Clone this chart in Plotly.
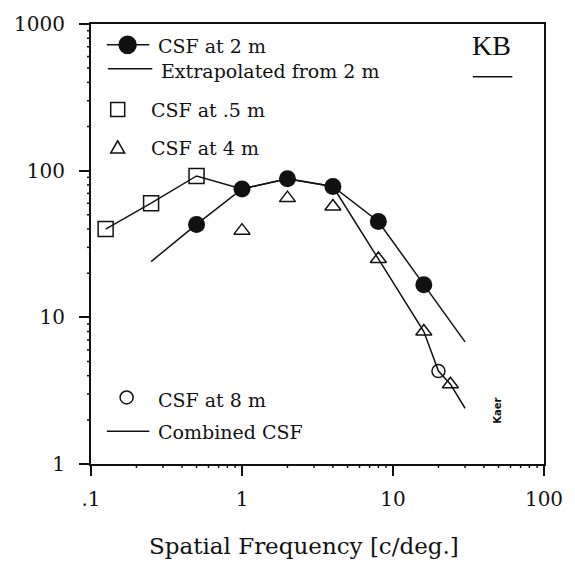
import math
import plotly.graph_objects as go

# ---- data (spatial frequency in c/deg, contrast sensitivity) ----
freq_2m = [0.5, 1, 2, 4, 8, 16]
csf_2m = [43, 75, 88, 78, 45, 16.7]

freq_extrap = [0.25, 0.5, None, 16, 30]
csf_extrap = [24, 43, None, 16.7, 6.8]

freq_half = [0.125, 0.25, 0.5]
csf_half = [40, 60, 92]

freq_4m = [1, 2, 4, 8, 16, 24]
csf_4m = [39, 65, 57, 25, 8, 3.5]

freq_8m = [20]
csf_8m = [4.3]

freq_comb = [0.125, 0.25, 0.5, 1, 2, 4, 8, 16, 20, 24, 30]
csf_comb = [40, 60, 92, 75, 88, 78, 25, 8, 4.3, 3.5, 2.4]

x_tickvals = [0.1, 1, 10, 100]
x_ticktext = [".1", "1", "10", "100"]
y_tickvals = [1, 10, 100, 1000]
y_ticktext = ["1", "10", "100", "1000"]

X_RANGE = [-1, 2]   # log10 of 0.1 .. 100
Y_RANGE = [0, 3]    # log10 of 1 .. 1000

FONT = "DejaVu Serif"
INK = "#111111"
W, H = 575, 562
L, R, T, B = 91, 549, 21, 464


def px(x):
    return (x - L) / (R - L)


def py(y):
    return (B - y) / (B - T)


fig = go.Figure()

line_style = dict(color=INK, width=1.5)

fig.add_trace(go.Scatter(x=freq_comb, y=csf_comb, mode="lines", line=line_style))
fig.add_trace(go.Scatter(x=freq_extrap, y=csf_extrap, mode="lines", line=line_style,
                         connectgaps=False))
fig.add_trace(go.Scatter(x=freq_2m, y=csf_2m, mode="lines+markers", line=line_style,
                         marker=dict(symbol="circle", size=17, color=INK)))
fig.add_trace(go.Scatter(x=freq_half, y=csf_half, mode="markers",
                         marker=dict(symbol="square-open", size=15, color=INK,
                                     line=dict(width=1.5, color=INK))))
fig.add_trace(go.Scatter(x=freq_4m, y=csf_4m, mode="markers",
                         marker=dict(symbol="triangle-up-open", size=14, color=INK,
                                     line=dict(width=1.5, color=INK))))
fig.add_trace(go.Scatter(x=freq_8m, y=csf_8m, mode="markers",
                         marker=dict(symbol="circle-open", size=13, color=INK,
                                     line=dict(width=1.5, color=INK))))

major = dict(
    type="log", showgrid=False, zeroline=False,
    showline=True, linecolor=INK, linewidth=2, mirror=True,
    ticks="outside", ticklen=10, tickwidth=1.5, tickcolor=INK,
    tickfont=dict(family=FONT, size=20, color=INK),
    tickmode="array",
)

fig.update_xaxes(range=X_RANGE, tickvals=x_tickvals, ticktext=x_ticktext,
                 ticklabelstandoff=6, **major)
fig.update_yaxes(range=Y_RANGE, tickvals=y_tickvals, ticktext=y_ticktext,
                 ticklabelstandoff=10, **major)

shapes = []
annotations = []

# short minor ticks at 2..9 within each decade, placed on the log scale
MINOR_LEN = 4
for d in (0.1, 1, 10):
    for m in range(2, 10):
        f = (math.log10(m * d) - X_RANGE[0]) / (X_RANGE[1] - X_RANGE[0])
        shapes.append(dict(type="line", xref="paper", yref="paper",
                           ysizemode="pixel", yanchor=0,
                           x0=f, x1=f, y0=0, y1=-MINOR_LEN,
                           line=dict(color=INK, width=1.5)))
for d in (1, 10, 100):
    for m in range(2, 10):
        f = (math.log10(m * d) - Y_RANGE[0]) / (Y_RANGE[1] - Y_RANGE[0])
        shapes.append(dict(type="line", xref="paper", yref="paper",
                           xsizemode="pixel", xanchor=0,
                           x0=0, x1=-MINOR_LEN, y0=f, y1=f,
                           line=dict(color=INK, width=1.5)))


def key_line(x0, x1, y):
    shapes.append(dict(type="line", xref="paper", yref="paper",
                       x0=px(x0), x1=px(x1), y0=py(y), y1=py(y),
                       line=dict(color=INK, width=1.5)))


def key_marker(kind, x, y, r, filled=False):
    base = dict(xref="paper", yref="paper", xsizemode="pixel", ysizemode="pixel",
                xanchor=px(x), yanchor=py(y),
                line=dict(color=INK, width=1.5),
                fillcolor=INK if filled else "rgba(0,0,0,0)")
    if kind == "circle":
        shapes.append(dict(type="circle", x0=-r, x1=r, y0=-r, y1=r, **base))
    elif kind == "square":
        shapes.append(dict(type="rect", x0=-r, x1=r, y0=-r, y1=r, **base))
    elif kind == "triangle":
        shapes.append(dict(type="path",
                           path=f"M{-r},{-r*0.85} L{r},{-r*0.85} L0,{r*0.9} Z",
                           **base))


def key_text(text, x, y, size=19):
    annotations.append(dict(text=text, xref="paper", yref="paper",
                            x=px(x), y=py(y), xanchor="left", yanchor="middle",
                            showarrow=False,
                            font=dict(family=FONT, size=size, color=INK)))


# upper key
key_line(107, 150, 42)
key_marker("circle", 128, 42, 8.5, filled=True)
key_text("CSF at 2 m", 157, 43)
key_line(108, 153, 66)
key_text("Extrapolated from 2 m", 160, 68)
key_marker("square", 118, 107, 7)
key_text("CSF at .5 m", 150, 108)
key_marker("triangle", 118, 145, 7)
key_text("CSF at 4 m", 150, 146)

# lower key
key_marker("circle", 127, 397, 6.5)
key_text("CSF at 8 m", 157, 400)
key_line(107, 150, 431)
key_text("Combined CSF", 157, 432)

# subject tag
annotations.append(dict(text="KB", xref="paper", yref="paper", x=px(496), y=py(43),
                        xanchor="center", yanchor="middle", showarrow=False,
                        font=dict(family="Liberation Serif", size=28, color=INK)))
shapes.append(dict(type="line", xref="paper", yref="paper",
                   x0=px(477), x1=px(517), y0=py(74), y1=py(74),
                   line=dict(color=INK, width=1.5)))

annotations.append(dict(text="<b>Kaer</b>", xref="paper", yref="paper",
                        x=px(502), y=py(411),
                        xanchor="center", yanchor="middle", textangle=-90,
                        showarrow=False,
                        font=dict(family="DejaVu Sans", size=10, color=INK)))

# axis title
annotations.append(dict(text="Spatial Frequency [c/deg.]", xref="paper", yref="paper",
                        x=px(306), y=py(547), xanchor="center", yanchor="middle",
                        showarrow=False,
                        font=dict(family=FONT, size=23, color=INK)))

fig.update_layout(
    width=W, height=H,
    margin=dict(l=L, r=W - R, t=T, b=H - B),
    paper_bgcolor="white", plot_bgcolor="white",
    showlegend=False,
    shapes=shapes, annotations=annotations,
)

fig.write_html("out.html")
